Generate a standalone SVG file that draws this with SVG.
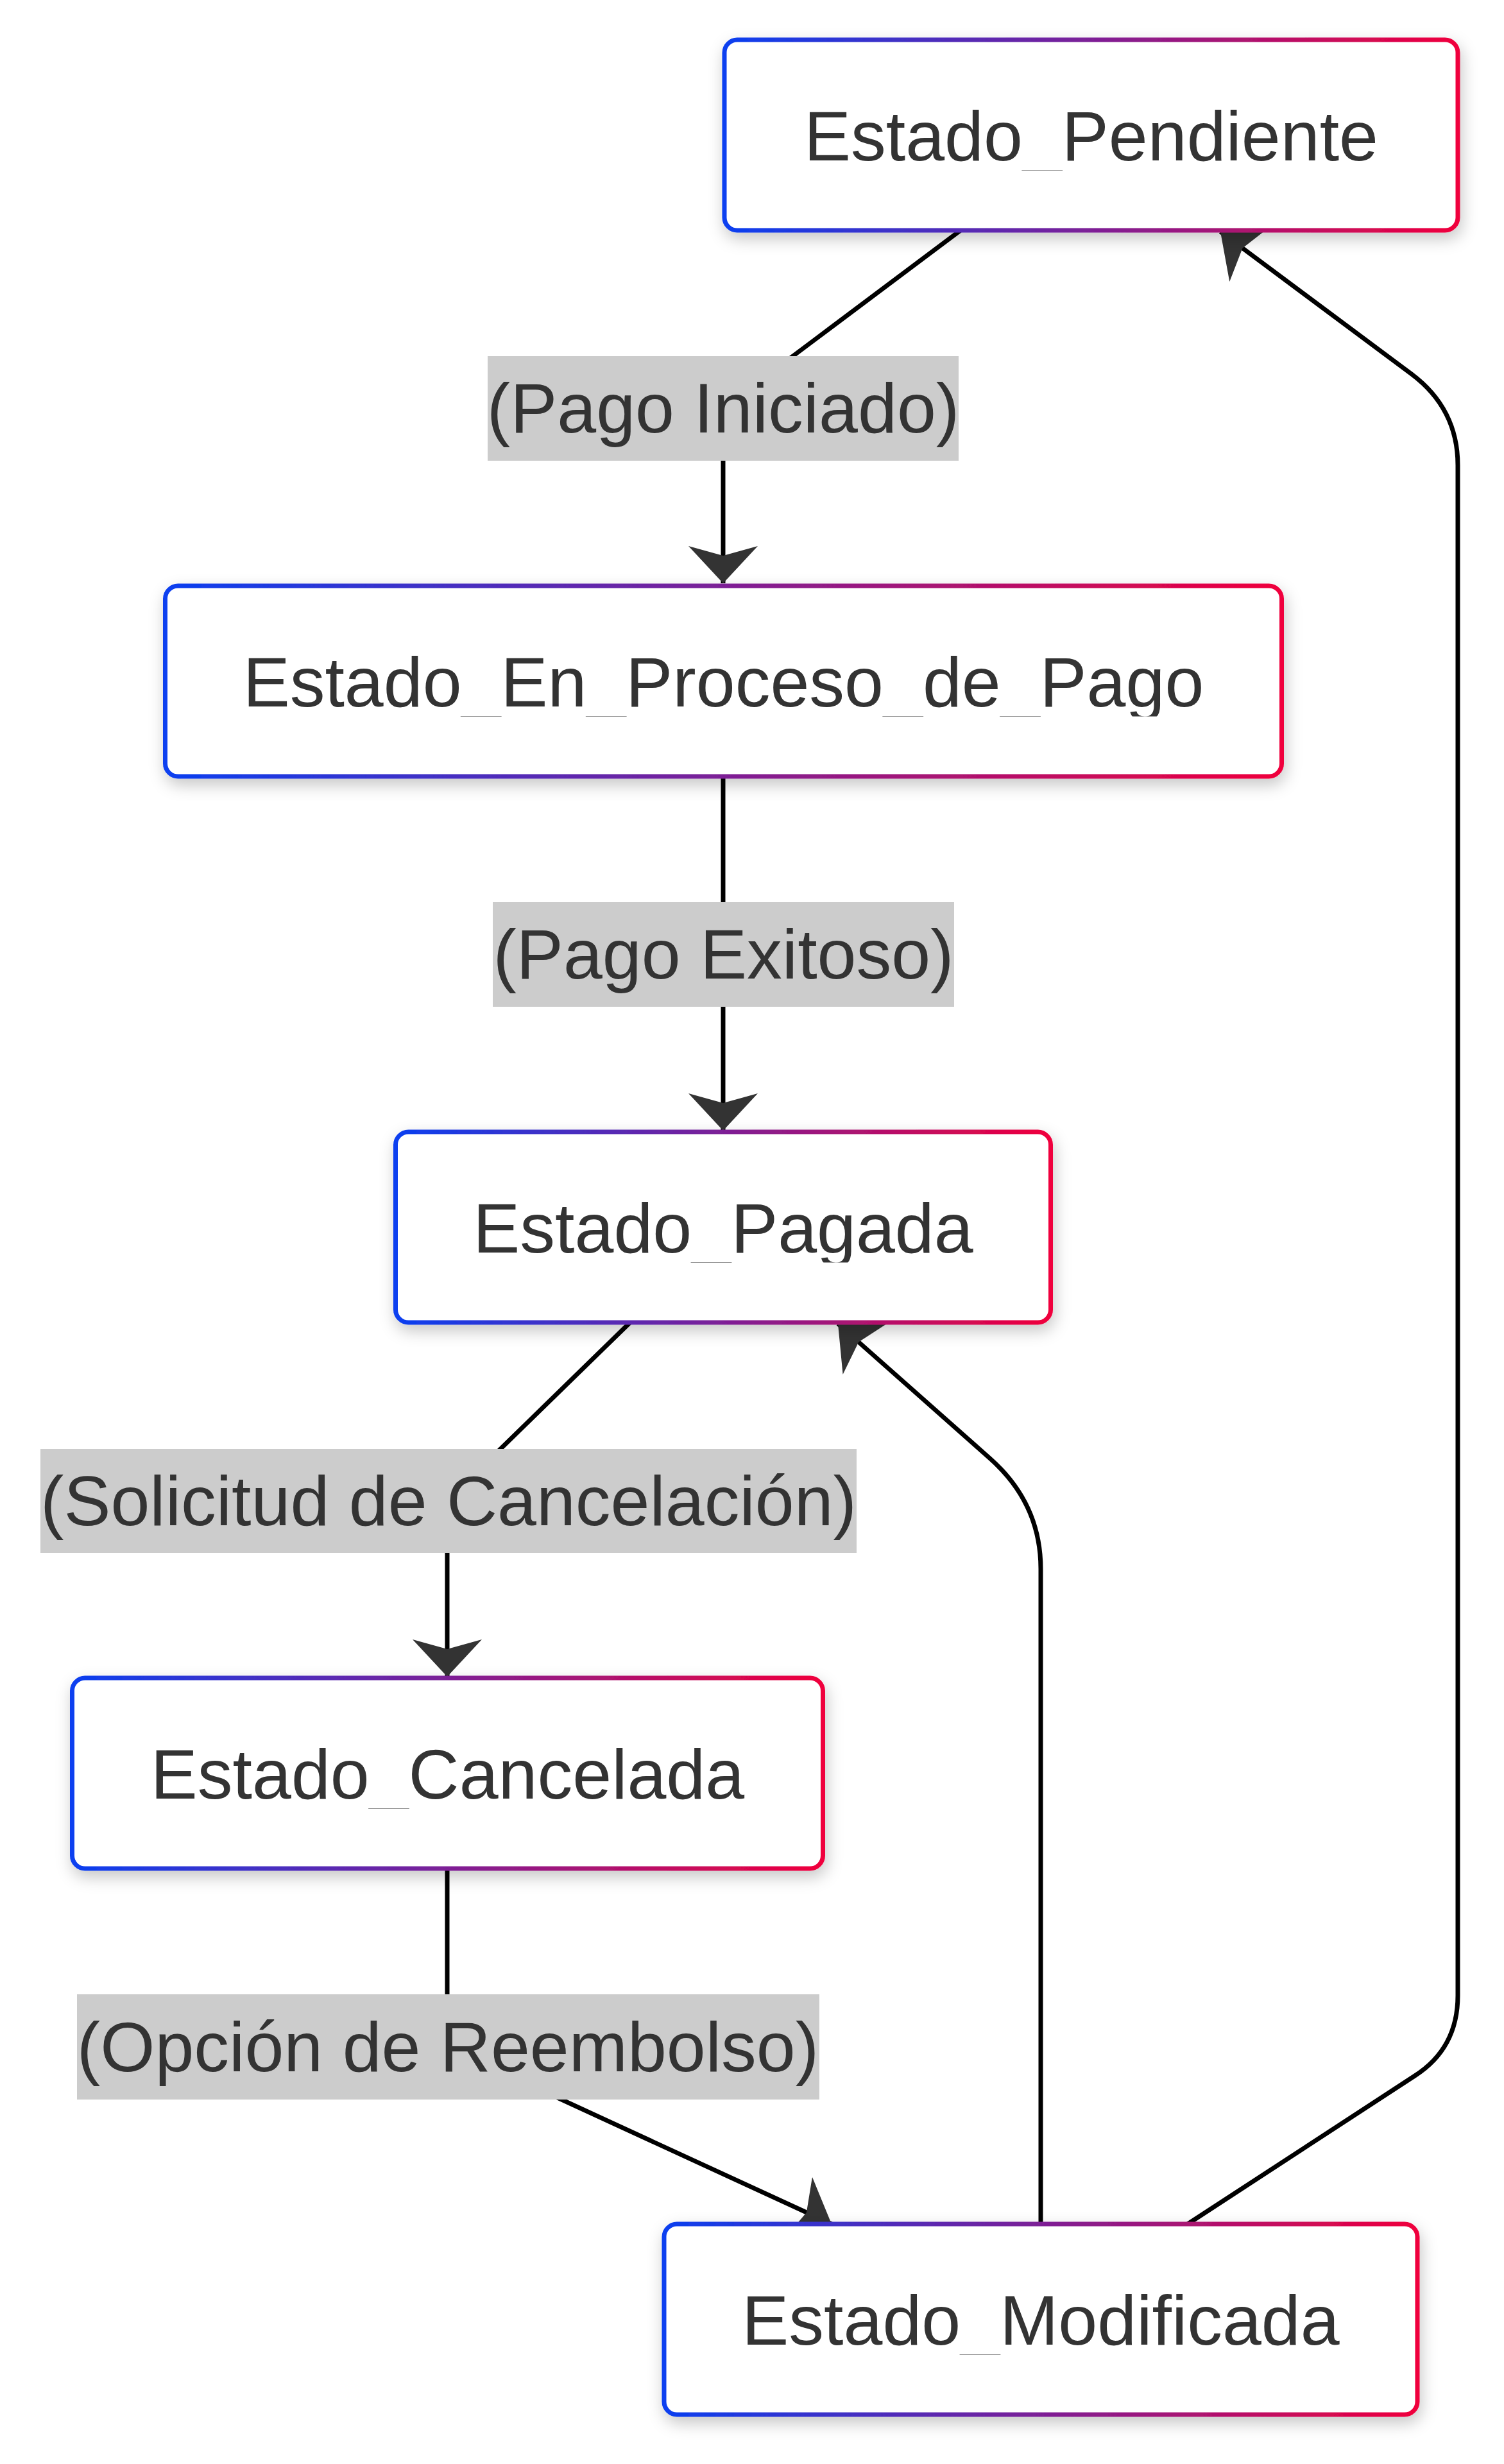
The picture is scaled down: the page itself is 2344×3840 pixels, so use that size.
<svg xmlns="http://www.w3.org/2000/svg" width="2344" height="3840" viewBox="0 0 2344 3840">
<style>
  .node rect.box { fill: #ffffff; stroke: url(#grad); stroke-width: 7; filter: url(#shadow); }
  .ntext { font-family: "Liberation Sans", Arial, sans-serif; font-size: 109.5px; fill: #333333; text-anchor: middle; }
  .edge { fill: none; stroke: #000000; stroke-width: 7; marker-end: url(#arrow); }
  .lbl rect { fill: #cccccc; }
  .lbl text { font-family: "Liberation Sans", Arial, sans-serif; font-size: 109.5px; fill: #333333; text-anchor: middle; }
</style>
<defs>
  <linearGradient id="grad" x1="0" y1="0" x2="1" y2="0">
    <stop offset="0" stop-color="#0a3ff0"/>
    <stop offset="1" stop-color="#f0003c"/>
  </linearGradient>
  <filter id="shadow" x="-10%" y="-20%" width="120%" height="150%">
    <feDropShadow dx="3" dy="10" stdDeviation="12" flood-color="#000000" flood-opacity="0.22"/>
  </filter>
  <marker id="arrow" viewBox="0 -56 60 112" refX="58" refY="0" markerWidth="60" markerHeight="112" markerUnits="userSpaceOnUse" orient="auto">
    <path d="M 58 0 L 0 -54 L 15 0 L 0 54 Z" fill="#333333"/>
  </marker>
  <clipPath id="c1"><rect x="1120" y="50" width="1160" height="215.5"/></clipPath>
  <clipPath id="c2"><rect x="250" y="900" width="1760" height="216.5"/></clipPath>
  <clipPath id="c3"><rect x="610" y="1750" width="1040" height="217.5"/></clipPath>
  <clipPath id="c4"><rect x="100" y="2600" width="1190" height="218.5"/></clipPath>
  <clipPath id="c5"><rect x="1025" y="3455" width="1190" height="214.5"/></clipPath>
</defs>
<rect x="0" y="0" width="2344" height="3840" fill="#ffffff"/>

<g id="edges">
  <path class="edge" d="M 1497 359 L 1127 636.5 L 1127 909"/>
  <path class="edge" d="M 1127 1210 L 1127 1762"/>
  <path class="edge" d="M 982 2061 L 697 2339 L 697 2613"/>
  <path class="edge" d="M 697 2912 L 697 3190 L 1296 3466"/>
  <path class="edge" d="M 1622 3466 L 1622 2445 Q 1622 2343 1543 2273 L 1306 2063"/>
  <path class="edge" d="M 1851 3466 L 2205 3235 Q 2272 3192 2272 3110 L 2272 725 Q 2272 637 2200 583 L 1902 361"/>
</g>

<g id="edge-labels">
  <g class="lbl" id="lbl1"><rect x="760" y="555" width="734" height="163"/><text x="1127" y="674">(Pago Iniciado)</text></g>
  <g class="lbl" id="lbl2"><rect x="768" y="1406" width="719" height="163"/><text x="1127.5" y="1525">(Pago Exitoso)</text></g>
  <g class="lbl" id="lbl3"><rect x="63" y="2258" width="1272" height="162"/><text x="699" y="2376.5">(Solicitud de Cancelación)</text></g>
  <g class="lbl" id="lbl4"><rect x="120" y="3108" width="1157" height="164"/><text x="698" y="3227.5">(Opción de Reembolso)</text></g>
</g>

<g id="Estado_Pendiente" class="node">
  <rect class="box" x="1129" y="62" width="1143" height="297" rx="20" ry="20"/>
  <text class="ntext" x="1700.5" y="250" clip-path="url(#c1)">Estado_Pendiente</text>
</g>
<g id="Estado_En_Proceso_de_Pago" class="node">
  <rect class="box" x="257.5" y="913" width="1740" height="297" rx="20" ry="20"/>
  <text class="ntext" x="1127.5" y="1101" clip-path="url(#c2)">Estado_En_Proceso_de_Pago</text>
</g>
<g id="Estado_Pagada" class="node">
  <rect class="box" x="616.5" y="1764" width="1021" height="297" rx="20" ry="20"/>
  <text class="ntext" x="1127" y="1952" clip-path="url(#c3)">Estado_Pagada</text>
</g>
<g id="Estado_Cancelada" class="node">
  <rect class="box" x="112.5" y="2615" width="1170" height="297" rx="20" ry="20"/>
  <text class="ntext" x="697.5" y="2803" clip-path="url(#c4)">Estado_Cancelada</text>
</g>
<g id="Estado_Modificada" class="node">
  <rect class="box" x="1035" y="3466" width="1174" height="297" rx="20" ry="20"/>
  <text class="ntext" x="1622" y="3654" clip-path="url(#c5)">Estado_Modificada</text>
</g>
</svg>
